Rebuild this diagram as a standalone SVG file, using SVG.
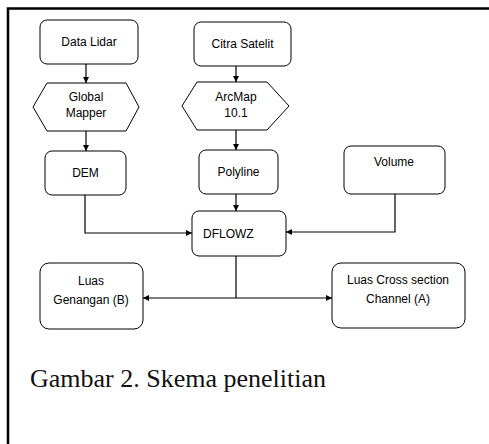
<svg xmlns="http://www.w3.org/2000/svg" width="489" height="444" viewBox="0 0 489 444">
<defs>
<marker id="ah" viewBox="0 0 10 10" refX="10" refY="5" markerWidth="6" markerHeight="6" markerUnits="userSpaceOnUse" orient="auto">
<path d="M0,0 L10,5 L0,10 z" fill="#000"/>
</marker>
</defs>
<style>
.box{fill:#fff;stroke:#000;stroke-width:1}
.t{font-family:"Liberation Sans",Arial,sans-serif;font-size:12px;fill:#000;text-anchor:middle}
.c{fill:none;stroke:#000;stroke-width:1.2}
.frame{fill:none;stroke:#000;stroke-width:2.5}
.cap{font-family:"Liberation Serif","Times New Roman",serif;font-size:25px;fill:#111}
</style>
<rect width="489" height="444" fill="#fff"/>
<path class="frame" d="M8,444 L8,8.5 L489,8.5"/>
<g id="connectors">
<path class="c" d="M86,64 L86,83" marker-end="url(#ah)"/>
<path class="c" d="M86,131 L86,151" marker-end="url(#ah)"/>
<path class="c" d="M236,66 L236,82" marker-end="url(#ah)"/>
<path class="c" d="M236,130 L236,150" marker-end="url(#ah)"/>
<path class="c" d="M85,195 L85,233 L192,233" marker-end="url(#ah)"/>
<path class="c" d="M236,194 L236,211" marker-end="url(#ah)"/>
<path class="c" d="M395,194 L395,232 L286,232" marker-end="url(#ah)"/>
<path class="c" d="M236,256 L236,298"/>
<path class="c" d="M236,298 L143,298" marker-end="url(#ah)"/>
<path class="c" d="M236,298 L332,298" marker-end="url(#ah)"/>
</g>
<g id="data-lidar">
<rect class="box" x="40" y="20" width="98" height="44" rx="7"/>
<text class="t" x="89" y="46">Data Lidar</text>
</g>
<g id="global-mapper">
<polygon class="box" points="33,107 47,83 126,83 139,107 126,131 47,131"/>
<text class="t" x="86" y="101">Global</text>
<text class="t" x="86" y="117">Mapper</text>
</g>
<g id="dem">
<rect class="box" x="45" y="151" width="81" height="44" rx="7"/>
<text class="t" x="85.5" y="177">DEM</text>
</g>
<g id="citra-satelit">
<rect class="box" x="194" y="22" width="97" height="44" rx="7"/>
<text class="t" x="242.5" y="48">Citra Satelit</text>
</g>
<g id="arcmap">
<polygon class="box" points="182,106 197,82 267,82 289,106 267,130 197,130"/>
<text class="t" x="236" y="101">ArcMap</text>
<text class="t" x="236" y="117">10.1</text>
</g>
<g id="polyline">
<rect class="box" x="199" y="150" width="79" height="44" rx="7"/>
<text class="t" x="238.5" y="176">Polyline</text>
</g>
<g id="volume">
<rect class="box" x="344" y="146" width="101" height="48" rx="7"/>
<text class="t" x="394" y="166">Volume</text>
</g>
<g id="dflowz">
<rect class="box" x="192" y="211" width="94" height="45" rx="7"/>
<text class="t" x="203" y="238" style="text-anchor:start">DFLOWZ</text>
</g>
<g id="luas-genangan">
<rect class="box" x="40" y="263" width="103" height="66" rx="9"/>
<text class="t" x="91" y="285">Luas</text>
<text class="t" x="91" y="304">Genangan (B)</text>
</g>
<g id="luas-cross">
<rect class="box" x="332" y="263" width="133" height="65" rx="9"/>
<text class="t" x="398" y="284">Luas Cross section</text>
<text class="t" x="398" y="303">Channel (A)</text>
</g>
<text class="cap" x="30" y="387" textLength="296" lengthAdjust="spacingAndGlyphs">Gambar 2. Skema penelitian</text>
</svg>
